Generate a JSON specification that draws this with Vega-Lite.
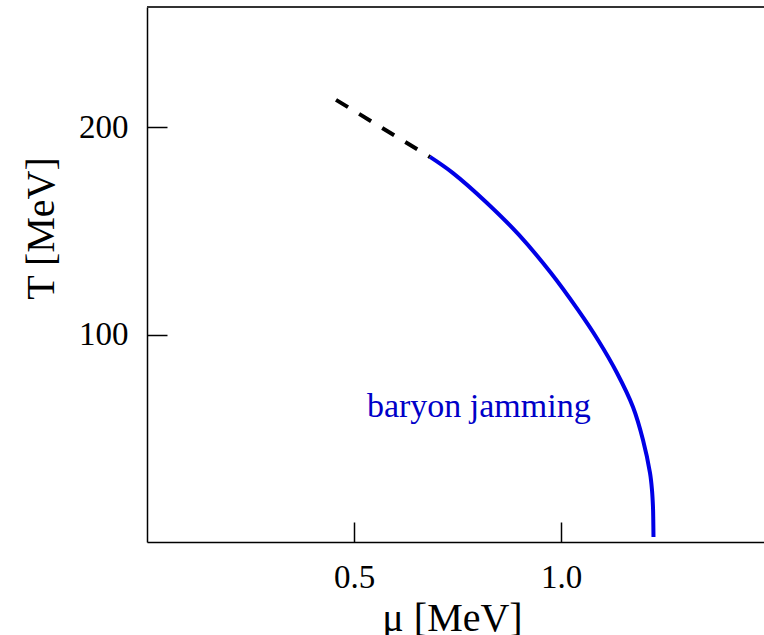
{
  "$schema": "https://vega.github.io/schema/vega-lite/v6.json",
  "autosize": "none",
  "width": 617,
  "height": 535,
  "padding": {"left": 147, "top": 7, "right": 0, "bottom": 93},
  "background": "white",
  "view": {"stroke": null},
  "config": {
    "font": "Liberation Serif",
    "axis": {"grid": false}
  },
  "layer": [
    {
      "data": {"values": [
        {"mu": 0.4565, "T": 213.2},
        {"mu": 0.6834, "T": 185.7}
      ]},
      "mark": {"type": "line", "color": "black", "strokeWidth": 4, "strokeDash": [14, 13], "strokeCap": "butt"},
      "encoding": {
        "x": {
          "field": "mu", "type": "quantitative",
          "scale": {"domain": [0, 1.49], "nice": false, "zero": false},
          "axis": {
            "title": "μ [MeV]",
            "values": [0.5, 1.0],
            "format": ".1f",
            "labelFont": "Liberation Serif",
            "labelFontSize": 33,
            "labelColor": "black",
            "labelPadding": 39,
            "tickSize": -20,
            "tickColor": "black",
            "tickWidth": 1.5,
            "domainColor": "black",
            "domainWidth": 1.5,
            "titleFont": "Liberation Serif",
            "titleFontSize": 40,
            "titleFontWeight": "normal",
            "titleColor": "black",
            "titleX": 305,
            "titleY": 88,
            "titleAlign": "center",
            "titleBaseline": "alphabetic"
          }
        },
        "y": {
          "field": "T", "type": "quantitative",
          "scale": {"domain": [0, 258], "nice": false, "zero": false},
          "axis": {
            "title": "T [MeV]",
            "values": [100, 200],
            "labelFont": "Liberation Serif",
            "labelFontSize": 33,
            "labelColor": "black",
            "labelPadding": 39,
            "tickSize": -20,
            "tickColor": "black",
            "tickWidth": 1.5,
            "domainColor": "black",
            "domainWidth": 1.5,
            "titleFont": "Liberation Serif",
            "titleFontSize": 40,
            "titleFontWeight": "normal",
            "titleColor": "black",
            "titleAngle": -90,
            "titleX": -94,
            "titleY": 221,
            "titleAlign": "center",
            "titleBaseline": "alphabetic"
          }
        }
      }
    },
    {
      "data": {"values": [
        {"mu": 0.6834, "T": 185.7},
        {"mu": 0.7390, "T": 177.9},
        {"mu": 0.8211, "T": 163.5},
        {"mu": 0.8983, "T": 148.1},
        {"mu": 0.9756, "T": 129.7},
        {"mu": 1.0408, "T": 111.9},
        {"mu": 1.0891, "T": 97.4},
        {"mu": 1.1350, "T": 81.5},
        {"mu": 1.1736, "T": 65.1},
        {"mu": 1.1978, "T": 49.2},
        {"mu": 1.2147, "T": 33.3},
        {"mu": 1.2195, "T": 25.1},
        {"mu": 1.2219, "T": 16.9},
        {"mu": 1.2226, "T": 10.6},
        {"mu": 1.2231, "T": 2.4}
      ]},
      "mark": {"type": "line", "color": "#0000e6", "strokeWidth": 4, "interpolate": "catmull-rom"},
      "encoding": {
        "x": {"field": "mu", "type": "quantitative"},
        "y": {"field": "T", "type": "quantitative"}
      }
    },
    {
      "data": {"values": [{"mu": 0.531, "T": 60.3, "label": "baryon jamming"}]},
      "mark": {"type": "text", "align": "left", "baseline": "alphabetic", "font": "Liberation Serif", "fontSize": 34, "color": "#0000c8"},
      "encoding": {
        "x": {"field": "mu", "type": "quantitative"},
        "y": {"field": "T", "type": "quantitative"},
        "text": {"field": "label"}
      }
    },
    {
      "data": {"values": [{"top": 258}]},
      "mark": {"type": "rule", "color": "#333333", "strokeWidth": 2},
      "encoding": {
        "y": {"field": "top", "type": "quantitative"}
      }
    }
  ]
}
